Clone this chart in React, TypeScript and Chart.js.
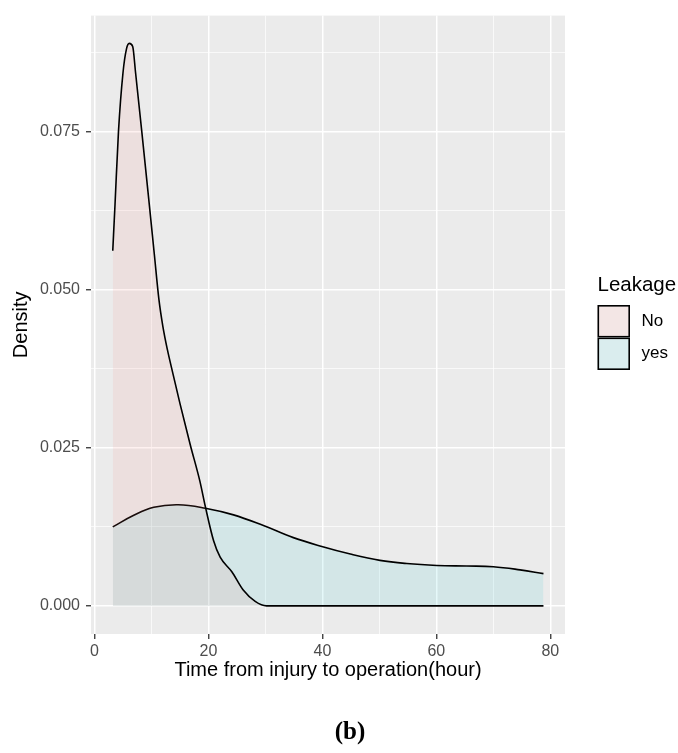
import React, { useEffect, useRef } from "react";
import { Chart, registerables } from "chart.js";

Chart.register(...registerables);

// ---- data ----
const groups = ["No", "yes"];
const xNo = [3.2, 3.6, 4.2, 5.0, 5.6, 6.1, 6.7, 7.2, 8.3, 9.6, 10.5, 11.3, 12.0, 12.8, 13.8, 15.0, 16.8, 18.5, 19.5, 20.9, 22.05, 24.1, 26.1, 28.2, 30.2, 40, 50, 60, 70, 78.8];
const densityNo = [0.0562, 0.0636, 0.075, 0.0844, 0.0881, 0.089, 0.0885, 0.0844, 0.075, 0.0636, 0.0556, 0.0485, 0.0442, 0.0405, 0.0366, 0.032, 0.0255, 0.0197, 0.0155, 0.0103, 0.0077, 0.0054, 0.0025, 0.0007, 0, 0, 0, 0, 0, 0];
const xYes = [3.2, 6.8, 10.4, 14.7, 19.45, 24.4, 29.65, 34.9, 39.9, 44.9, 50.1, 54.8, 60.1, 65.3, 70, 74.7, 78.8];
const densityYes = [0.0125, 0.0143, 0.0156, 0.016, 0.01545, 0.0144, 0.0127, 0.0108, 0.0094, 0.0082, 0.0072, 0.0067, 0.0064, 0.0063, 0.0062, 0.0057, 0.0051];
const xMajorStep = 20;
const yMajorStep = 0.025;
const xTitle = "Time from injury to operation(hour)";
const yTitle = "Density";
const legendTitle = "Leakage";
const caption = "(b)";

const FONT = "'Liberation Sans', Arial, Helvetica, sans-serif";
const fills = ["rgba(248,118,109,0.1)", "rgba(0,191,196,0.1)"];
const keyFills = ["rgb(243,230,229)", "rgb(218,237,238)"];

const isMajor = (v: number, step: number) => Math.abs(v / step - Math.round(v / step)) < 1e-6;

const bgPlugin = {
  id: "panelBg",
  beforeDraw(chart: any) {
    const { ctx, chartArea: a } = chart;
    ctx.save();
    ctx.fillStyle = "#FFFFFF";
    ctx.fillRect(0, 0, chart.width, chart.height);
    ctx.fillStyle = "#EBEBEB";
    ctx.fillRect(a.left, a.top, a.right - a.left, a.bottom - a.top);
    ctx.restore();
  },
};

const legendPlugin = {
  id: "ggLegend",
  afterDraw(chart: any) {
    const { ctx } = chart;
    ctx.save();
    const left = 597.5;
    ctx.fillStyle = "#000";
    ctx.textBaseline = "middle";
    ctx.textAlign = "left";
    ctx.font = `20.5px ${FONT}`;
    ctx.fillText(legendTitle, left, 285);
    const keyW = 32.5;
    const keyH = 32.5;
    const top = 305;
    groups.forEach((g, i) => {
      const y = top + i * keyH;
      ctx.fillStyle = keyFills[i];
      ctx.fillRect(left, y, keyW, keyH);
      ctx.strokeStyle = "#000";
      ctx.lineWidth = 1.6;
      ctx.strokeRect(left + 0.8, y + 0.8, keyW - 1.6, keyH - 1.6);
      ctx.fillStyle = "#000";
      ctx.font = `17px ${FONT}`;
      ctx.fillText(g, left + keyW + 11.5, y + keyH / 2);
    });
    ctx.font = `bold 25px 'Liberation Serif', 'Times New Roman', serif`;
    ctx.textAlign = "center";
    ctx.fillText(caption, 350, 733);
    ctx.restore();
  },
};

export default function App() {
  const ref = useRef<HTMLCanvasElement | null>(null);

  useEffect(() => {
    if (!ref.current) return;
    const mk = (xs: number[], ys: number[]) => xs.map((x, i) => ({ x, y: ys[i] }));
    const chart = new Chart(ref.current, {
      type: "line",
      data: {
        datasets: [
          {
            label: groups[0],
            data: mk(xNo, densityNo),
            borderColor: "#000000",
            borderWidth: 1.6,
            backgroundColor: fills[0],
            fill: "origin",
            pointRadius: 0,
            cubicInterpolationMode: "monotone",
          },
          {
            label: groups[1],
            data: mk(xYes, densityYes),
            borderColor: "#000000",
            borderWidth: 1.6,
            backgroundColor: fills[1],
            fill: "origin",
            pointRadius: 0,
            tension: 0.4,
          },
        ],
      },
      options: {
        responsive: false,
        animation: false,
        layout: { padding: { left: 8, right: 113, top: 10, bottom: 71 } },
        plugins: { legend: { display: false }, tooltip: { enabled: false } },
        scales: {
          x: {
            type: "linear",
            min: -0.62,
            max: 82.58,
            afterFit: (s: any) => {
              s.height = 48;
            },
            ticks: {
              stepSize: 10,
              includeBounds: false,
              autoSkip: false,
              maxRotation: 0,
              maxTicksLimit: 30,
              padding: 3,
              color: "#4D4D4D",
              font: { size: 16, family: FONT },
              callback: (v: any) => (isMajor(Number(v), xMajorStep) ? String(v) : ""),
            },
            grid: {
              color: "#FFFFFF",
              lineWidth: (c: any) => (c.tick && isMajor(c.tick.value, xMajorStep) ? 1.5 : 0.7),
              tickLength: 5,
              tickWidth: 1.3,
              tickColor: (c: any) => (c.tick && isMajor(c.tick.value, xMajorStep) ? "#333333" : "rgba(0,0,0,0)"),
            },
            border: { display: false },
            title: { display: true, text: xTitle, color: "#000", font: { size: 20, family: FONT }, padding: { top: 0, bottom: 0 } },
          },
          y: {
            type: "linear",
            min: -0.00445,
            max: 0.0934,
            afterFit: (s: any) => {
              s.width = 83;
            },
            ticks: {
              stepSize: 0.0125,
              includeBounds: false,
              autoSkip: false,
              maxTicksLimit: 30,
              padding: 6,
              color: "#4D4D4D",
              font: { size: 16, family: FONT },
              callback: (v: any) => (isMajor(Number(v), yMajorStep) ? Number(v).toFixed(3) : ""),
            },
            grid: {
              color: "#FFFFFF",
              lineWidth: (c: any) => (c.tick && isMajor(c.tick.value, yMajorStep) ? 1.5 : 0.7),
              tickLength: 5,
              tickWidth: 1.3,
              tickColor: (c: any) => (c.tick && isMajor(c.tick.value, yMajorStep) ? "#333333" : "rgba(0,0,0,0)"),
            },
            border: { display: false },
            title: { display: true, text: yTitle, color: "#000", font: { size: 20, family: FONT }, padding: { top: 1, bottom: 0 } },
          },
        },
      } as any,
      plugins: [bgPlugin, legendPlugin],
    });
    return () => chart.destroy();
  }, []);

  return (
    <div style={{ position: "absolute", left: 0, top: 0, width: 678, height: 753, background: "#fff" }}>
      <canvas ref={ref} width={678} height={753} style={{ display: "block", width: 678, height: 753 }} />
    </div>
  );
}
